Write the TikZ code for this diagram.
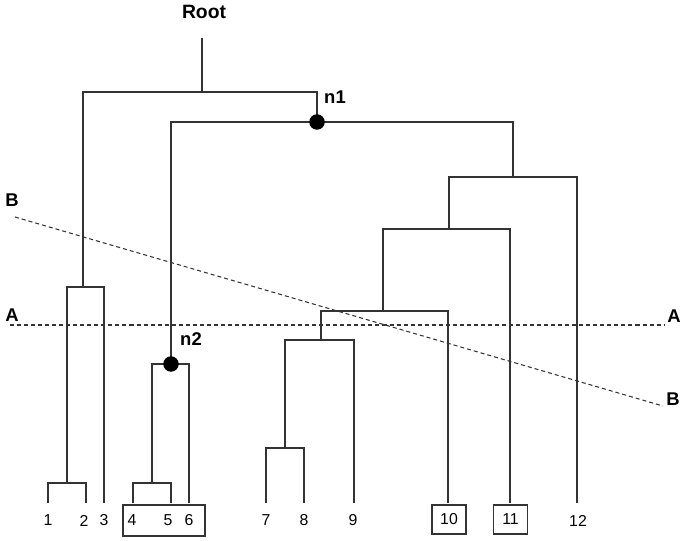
\documentclass[tikz,border=0pt]{standalone}
\usepackage{fontspec}
\setmainfont{Liberation Sans}

\tikzset{
	branch/.style={draw=black!80, line width=0.6pt},
	cut/.style={draw=black!80, line width=0.6pt, dash pattern=on 2.3pt off 1.7pt},
	leaf/.style={inner sep=0pt, font=\fontsize{9}{10}\selectfont},
	boxed/.style={leaf, draw=black!80, line width=0.6pt, minimum width=0.68cm, minimum height=0.58cm},
	tag/.style={inner sep=0pt, font=\bfseries\fontsize{10.5}{12}\selectfont},
	knot/.style={circle, fill=black, inner sep=0pt, minimum size=0.31cm},
}

\begin{document}
\begin{tikzpicture}[x=0.02cm, y=-0.02cm]
	\useasboundingbox (0,0) rectangle (685,540);
	
	% Leaves
	\foreach \n/\x in {1/48, 2/86, 3/104, 4/133, 5/171, 6/189, 7/266, 8/304, 9/354, 10/448, 11/510, 12/577}
		\coordinate (l\n) at (\x, 503);
	
	% Leaf labels
	\node[leaf] (t1)  at (48, 520.5)  {1};
	\node[leaf] (t2)  at (84, 520.5)  {2};
	\node[leaf] (t3)  at (104, 520.5) {3};
	\node[leaf] (t4)  at (132, 520.5) {4};
	\node[leaf] (t5)  at (168, 520.5) {5};
	\node[leaf] (t6)  at (189, 520.5) {6};
	\node[leaf] (t7)  at (266, 520.5) {7};
	\node[leaf] (t8)  at (304, 520.5) {8};
	\node[leaf] (t9)  at (353, 520.5) {9};
	\node[boxed] (t10) at (449, 519.5) {10};
	\node[boxed] (t11) at (510.5, 519.5) {11};
	\node[boxed, minimum width=1.64cm, minimum height=0.62cm] (g456) at (164, 520.5) {};
	\node[leaf] (t12) at (578, 520.5) {12};
	
	% Merges
	\coordinate (a12)   at (67, 483);
	\coordinate (a123)  at (83, 287);
	\coordinate (a45)   at (152, 483);
	\coordinate (a456)  at (171, 364);
	\coordinate (a78)   at (285, 448);
	\coordinate (a789)  at (321, 340);
	\coordinate (a710)  at (383, 311);
	\coordinate (a711)  at (449, 229);
	\coordinate (a712)  at (513, 177);
	\coordinate (n1)    at (317, 122);
	\coordinate (root)  at (202, 92);
	\coordinate (top)   at (202, 38);
	
	% Connections
	\draw[branch] (l1) |- (a12) -| (l2);
	\draw[branch] (a12) |- (a123) -| (l3);
	\draw[branch] (l4) |- (a45) -| (l5);
	\draw[branch] (a45) |- (a456) -| (l6);
	\draw[branch] (l7) |- (a78) -| (l8);
	\draw[branch] (a78) |- (a789) -| (l9);
	\draw[branch] (a789) |- (a710) -| (l10);
	\draw[branch] (a710) |- (a711) -| (l11);
	\draw[branch] (a711) |- (a712) -| (l12);
	\draw[branch] (a456) |- (n1) -| (a712);
	\draw[branch] (a123) |- (root) -| (n1);
	\draw[branch] (root) -- (top);
	
	% Marked nodes
	\node[knot] (k1) at (n1) {};
	\node[knot] (k2) at (a456) {};
	\node[tag] (n1lab) at (335, 97)  {n1};
	\node[tag] (n2lab) at (191, 339) {n2};
	\node[tag, font=\bfseries\fontsize{11}{13}\selectfont] (rootlab) at (204, 12) {Root};
	
	% Cut lines
	\node[tag] (aL) at (12, 315)  {A};
	\node[tag] (aR) at (674, 316) {A};
	\node[tag] (bL) at (12, 200)  {B};
	\node[tag] (bR) at (673, 399) {B};
	\coordinate (aL0) at (10, 325);
	\coordinate (aR0) at (665, 325);
	\coordinate (bL0) at (15, 217);
	\coordinate (bR0) at (663, 406);
	\draw[cut] (aL0) -- (aR0);
	\draw[cut] (bL0) -- (bR0);
\end{tikzpicture}
\end{document}
